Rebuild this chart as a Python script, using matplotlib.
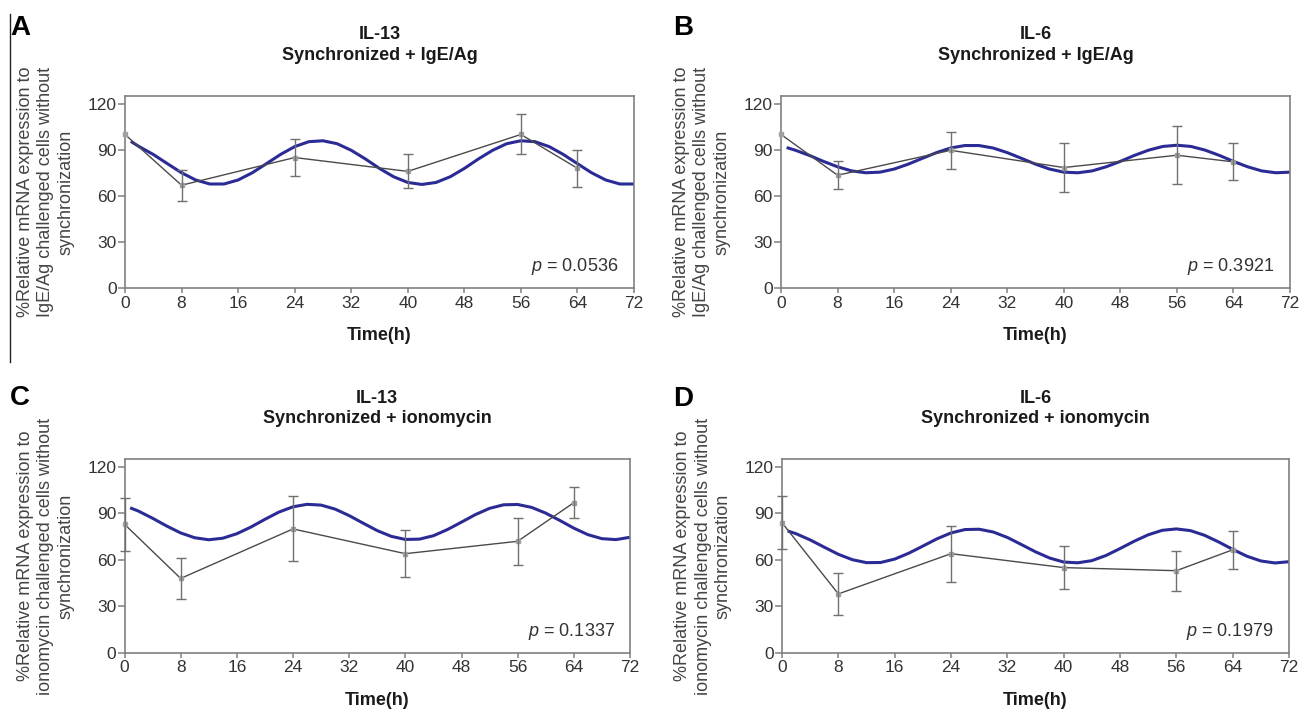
import matplotlib
matplotlib.use("Agg")
import matplotlib.pyplot as plt
from matplotlib.lines import Line2D

plt.rcParams['font.family'] = ['Liberation Sans', 'DejaVu Sans']
plt.rcParams['mathtext.fontset'] = 'custom'
plt.rcParams['mathtext.it'] = 'Liberation Sans:italic'
plt.rcParams['mathtext.rm'] = 'Liberation Sans'

# sampling times (h)
time_h = [0, 8, 24, 40, 56, 64]

# measured means and error bars (% of unsynchronized)
a_mean = [100, 67, 85, 76, 100, 78]
a_err = [0, 10, 12, 11, 13, 12]
b_mean = [100, 73.5, 89.7, 78.5, 86.5, 82.2]
b_err = [0, 9, 12, 16, 19, 12]
c_mean = [83, 48, 80, 64, 72, 97]
c_err = [17, 13, 21, 15, 15, 10]
d_mean = [84, 38, 64, 55, 53, 66.5]
d_err = [17, 13.5, 18, 13.7, 12.8, 12.4]

# fitted curves
fit_h = [1, 2, 4, 6, 8, 10, 12, 14, 16, 18, 20, 22, 24, 26, 28, 30, 32, 34, 36,
         38, 40, 42, 44, 46, 48, 50, 52, 54, 56, 58, 60, 62, 64, 66, 68, 70, 72]
a_fit = [95.0, 92.1, 87.0, 81.0, 75.1, 70.4, 67.8, 67.8, 70.4, 75.1, 81.0, 87.0,
         92.1, 95.3, 95.9, 94.0, 89.7, 84.1, 77.9, 72.5, 68.8, 67.5, 68.8, 72.5,
         77.9, 84.1, 89.7, 94.0, 95.9, 95.3, 92.1, 87.0, 81.0, 75.1, 70.4, 67.8, 67.8]
b_fit = [91.2, 89.8, 86.4, 82.5, 79.0, 76.3, 75.1, 75.5, 77.5, 80.7, 84.5, 88.2,
         91.2, 92.8, 92.8, 91.2, 88.2, 84.5, 80.7, 77.5, 75.5, 75.1, 76.3, 79.0,
         82.5, 86.4, 89.8, 92.2, 93.0, 92.2, 89.8, 86.4, 82.5, 79.0, 76.3, 75.1, 75.5]
c_fit = [93.3, 91.5, 86.9, 81.9, 77.4, 74.3, 73.0, 74.0, 76.9, 81.2, 86.2, 90.9,
         94.3, 95.9, 95.4, 92.8, 88.6, 83.7, 78.9, 75.2, 73.2, 73.4, 75.6, 79.6,
         84.4, 89.3, 93.3, 95.6, 95.8, 93.9, 90.2, 85.5, 80.5, 76.3, 73.7, 73.1, 74.6]
d_fit = [78.4, 76.9, 72.9, 68.2, 63.6, 60.1, 58.2, 58.3, 60.5, 64.3, 68.9, 73.6,
         77.4, 79.6, 79.8, 78.0, 74.5, 69.9, 65.2, 61.2, 58.6, 58.1, 59.5, 62.8,
         67.3, 72.0, 76.2, 79.1, 80.0, 78.9, 75.9, 71.6, 66.8, 62.4, 59.3, 58.0, 58.8]

letters = ['A', 'B', 'C', 'D']
titles = ['IL-13\nSynchronized + IgE/Ag', 'IL-6\nSynchronized + IgE/Ag',
          'IL-13\nSynchronized + ionomycin', 'IL-6\nSynchronized + ionomycin']
ylabels = ['%Relative mRNA expression to\nIgE/Ag challenged cells without\nsynchronization'] * 2 + \
          ['%Relative mRNA expression to\nionomycin challenged cells without\nsynchronization'] * 2
pvals = ['0.0536', '0.3921', '0.1337', '0.1979']
means = [a_mean, b_mean, c_mean, d_mean]
errs = [a_err, b_err, c_err, d_err]
fits = [a_fit, b_fit, c_fit, d_fit]

W, H = 1299, 709
fig = plt.figure(figsize=(W / 100, H / 100), dpi=100)

# axes boxes in pixels: left, right, top, bottom
boxes = [(125, 634, 96, 288.3), (781, 1290, 96, 288.3),
         (124.5, 630, 459.3, 652.7), (782, 1289, 459.3, 652.7)]
letter_pos = [(10, 15), (673, 15), (10, 385), (673, 386)]

blue = '#2b2b95'
spine = '#808080'
txt = '#333333'

for i in range(4):
    l, r, t, b = boxes[i]
    ax = fig.add_axes([l / W, 1 - b / H, (r - l) / W, (b - t) / H])
    ax.plot(fit_h, fits[i], color=blue, lw=2.2, zorder=2, solid_joinstyle='round')
    ax.plot(time_h, means[i], color='#4a4a4a', lw=1.0, zorder=3,
            marker='s', ms=3.5, mfc='#a0a0a0', mec='#a0a0a0', clip_on=False)
    idx = [k for k in range(len(time_h)) if errs[i][k] > 0]
    ax.errorbar([time_h[k] for k in idx], [means[i][k] for k in idx],
                yerr=[errs[i][k] for k in idx], fmt='none', ecolor='#707070',
                elinewidth=1.0, capsize=3.5, capthick=1.0, zorder=3, clip_on=False)

    ax.set_xlim(0, 72)
    ax.set_ylim(0, 125)
    ax.set_xticks(range(0, 73, 8))
    ax.set_yticks([0, 30, 60, 90, 120])
    for s in ax.spines.values():
        s.set_color(spine)
        s.set_linewidth(1.2)
    ax.tick_params(direction='out', color=spine, labelcolor=txt, labelsize=12.5, width=1.1)
    ax.tick_params(axis='x', length=3.5, pad=2)
    ax.tick_params(axis='y', length=5, pad=1)

    ax.text(69.8, 14, r'$p$ = ' + pvals[i], ha='right', va='center',
            fontsize=13, color=txt)

    cx = (l + r) / 2
    fig.text(cx / W, 1 - (t - 51) / H, titles[i], ha='center', va='center',
             fontsize=13, fontweight='bold', color='#1a1a1a', linespacing=1.25)
    fig.text(cx / W, 1 - (b + 47.5) / H, 'Time(h)', ha='center', va='center',
             fontsize=13, fontweight='bold', color='#1a1a1a')
    fig.text((l - 79) / W, 1 - ((t + b) / 2) / H, ylabels[i], rotation=90,
             ha='center', va='center', multialignment='center',
             fontsize=13, color='#444444', linespacing=1.25)
    lx, ly = letter_pos[i]
    fig.text(lx / W, 1 - ly / H, letters[i], ha='left', va='top',
             fontsize=20, fontweight='bold', color='black')

# thin frame line on the left of panel A
fig.add_artist(Line2D([10 / W, 10 / W], [1 - 14 / H, 1 - 362 / H],
                      color='#222222', lw=1.0))

fig.savefig('out.png', dpi=100)
